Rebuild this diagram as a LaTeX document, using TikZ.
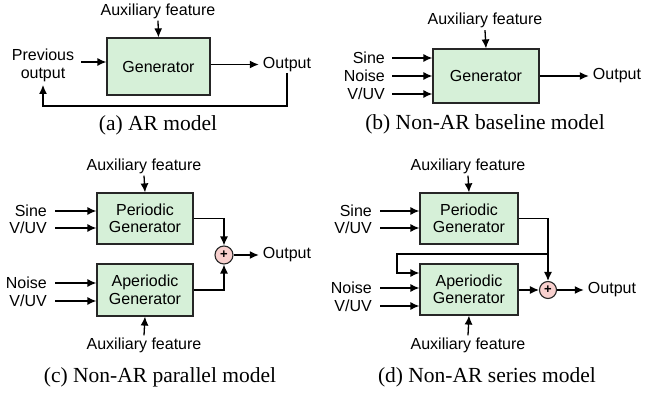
\documentclass[tikz,border=0pt]{standalone}
\usepackage{fontspec}
\setmainfont{Liberation Serif}
\setsansfont{Liberation Sans}
\usetikzlibrary{arrows.meta,positioning}
\definecolor{boxgreen}{RGB}{214,240,216}
\definecolor{sumpink}{RGB}{248,208,206}
\tikzset{
  gen/.style={draw=black!85, fill=boxgreen, line width=1.2pt, align=center,
    font=\sffamily\fontsize{16}{17.5}\selectfont, inner sep=0pt},
  lbl/.style={font=\sffamily\fontsize{16}{17.5}\selectfont, inner sep=2pt, align=center},
  captxt/.style={font=\rmfamily\fontsize{21.5}{24}\selectfont, inner sep=0pt},
  arr/.style={-{Latex[length=9pt,width=8pt]}, line width=1.3pt, draw=black},
  sum/.style={circle, draw=black!85, fill=sumpink, line width=1.1pt, minimum size=18pt, inner sep=0pt,
    font=\sffamily\bfseries\fontsize{13}{13}\selectfont}
}
\begin{document}
\begin{tikzpicture}[x=1pt,y=-1pt]
\useasboundingbox (0,0) rectangle (657,393);
% ---------- (a) ----------
\node[gen, minimum width=103pt, minimum height=57pt] (ga) at (158.5,66.5) {Generator};
\node[lbl] (auxa) at (158,11) {Auxiliary feature};
\node[lbl] (preva) at (43,65.5) {Previous\\output};
\node[lbl] (outa) at (287,64.5) {Output};
\draw[arr] (auxa.south) -- (ga.north);
\draw[arr] (81,62) -- (ga.west |- 0,62);
\draw[arr] (ga.east |- outa.west) -- ([xshift=-2pt]outa.west);
\draw[arr] ([yshift=1pt]outa.south) -- (outa.south |- 0,106) -| ([yshift=-1pt]preva.south);
\node[captxt] (capa) at (158,125) {(a) AR model};
% ---------- (b) ----------
\node[gen, minimum width=106pt, minimum height=54pt] (gb) at (486,76) {Generator};
\node[lbl] (auxb) at (485,20.5) {Auxiliary feature};
\node[lbl, anchor=east] (sineb) at (387,58) {Sine};
\node[lbl, anchor=east] (noiseb) at (387,76) {Noise};
\node[lbl, anchor=east] (vuvb) at (387,94) {V/UV};
\node[lbl] (outb) at (617,76) {Output};
\draw[arr] (auxb.south) -- (gb.north);
\draw[arr] ([xshift=5pt]sineb.east) -- (sineb.east -| gb.west);
\draw[arr] ([xshift=5pt]noiseb.east) -- (noiseb.east -| gb.west);
\draw[arr] ([xshift=5pt]vuvb.east) -- (vuvb.east -| gb.west);
\draw[arr] (gb.east) -- ([xshift=-2pt]outb.west);
\node[captxt] (capb) at (485,124) {(b) Non-AR baseline model};
% ---------- (c) ----------
\node[gen, minimum width=96pt, minimum height=51pt] (pc) at (145,218.5) {Periodic\\Generator};
\node[gen, minimum width=96pt, minimum height=52pt] (ac) at (145,290) {Aperiodic\\Generator};
\node[lbl] (auxc) at (144,166) {Auxiliary feature};
\node[lbl] (auxc2) at (144,345) {Auxiliary feature};
\node[lbl, anchor=east] (sinec) at (49,211) {Sine};
\node[lbl, anchor=east] (vuvc) at (49,228) {V/UV};
\node[lbl, anchor=east] (noisec) at (49,283) {Noise};
\node[lbl, anchor=east] (vuvc2) at (49,301) {V/UV};
\node[sum] (sc) at (224,255) {+};
\node[lbl] (outc) at (287,255) {Output};
\draw[arr] (auxc.south) -- (pc.north);
\draw[arr] (auxc2.north) -- (ac.south);
\draw[arr] ([xshift=6pt]sinec.east) -- (sinec.east -| pc.west);
\draw[arr] ([xshift=6pt]vuvc.east) -- (vuvc.east -| pc.west);
\draw[arr] ([xshift=6pt]noisec.east) -- (noisec.east -| ac.west);
\draw[arr] ([xshift=6pt]vuvc2.east) -- (vuvc2.east -| ac.west);
\draw[arr] (pc.east) -| (sc.north);
\draw[arr] (ac.east) -| (sc.south);
\draw[arr] (sc.east) -- ([xshift=-2pt]outc.west);
\node[captxt] (capc) at (160,377) {(c) Non-AR parallel model};
% ---------- (d) ----------
\node[gen, minimum width=98pt, minimum height=51pt] (pd) at (469,218.5) {Periodic\\Generator};
\node[gen, minimum width=98pt, minimum height=51pt] (ad) at (469,289.5) {Aperiodic\\Generator};
\node[lbl] (auxd) at (468,166) {Auxiliary feature};
\node[lbl] (auxd2) at (468,345) {Auxiliary feature};
\node[lbl, anchor=east] (sined) at (374,211) {Sine};
\node[lbl, anchor=east] (vuvd) at (374,228) {V/UV};
\node[lbl, anchor=east] (noised) at (374,288) {Noise};
\node[lbl, anchor=east] (vuvd2) at (374,306) {V/UV};
\node[sum, minimum size=17pt] (sd) at (548,290) {+};
\node[lbl] (outd) at (612,290) {Output};
\draw[arr] (auxd.south) -- (pd.north);
\draw[arr] (auxd2.north) -- (ad.south);
\draw[arr] ([xshift=6pt]sined.east) -- (sined.east -| pd.west);
\draw[arr] ([xshift=6pt]vuvd.east) -- (vuvd.east -| pd.west);
\draw[arr] ([xshift=6pt]noised.east) -- (noised.east -| ad.west);
\draw[arr] ([xshift=6pt]vuvd2.east) -- (vuvd2.east -| ad.west);
\draw[arr] (pd.east) -| (sd.north);
\coordinate (brd) at (sd.north |- 0,254);
\coordinate (bend) at (397,273);
\draw[arr] (brd) -| (bend) -- (bend -| ad.west);
\draw[arr] (ad.east |- sd.west) -- (sd.west);
\draw[arr] (sd.east) -- ([xshift=-2pt]outd.west);
\node[captxt] (capd) at (487,377) {(d) Non-AR series model};
\end{tikzpicture}
\end{document}
